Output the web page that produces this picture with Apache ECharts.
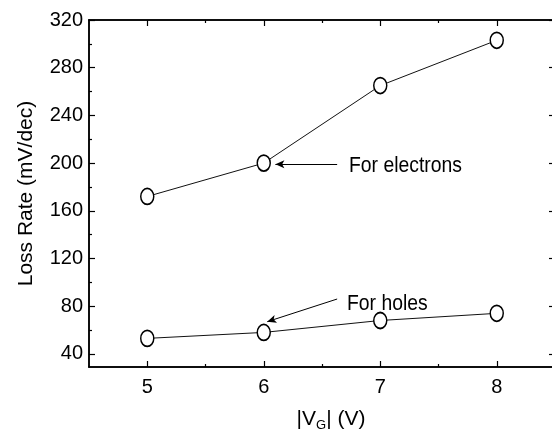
<!DOCTYPE html>
<html>
<head>
<meta charset="utf-8">
<script src="https://cdn.jsdelivr.net/npm/echarts@6/dist/echarts.min.js"></script>
<style>
  html, body { margin: 0; padding: 0; background: #fff; }
  #chart { width: 552px; height: 434px; }
</style>
</head>
<body>
<div id="chart"></div>
<script>
// data
const gateVoltage = [5, 6, 7, 8];
const electronRate = [172, 200, 265, 303];
const holeRate = [53, 58, 68, 74];
const xLabels = [5, 6, 7, 8];
const xMinor = [5.5, 6.5, 7.5];
const yLabels = [40, 80, 120, 160, 200, 240, 280, 320];
const yMinor = [60, 100, 140, 180, 220, 260, 300];

const FONT = "'Liberation Sans', Arial, sans-serif";
const axisLine = { show: true, lineStyle: { color: '#000', width: 1.5 } };

function xAxisDef(pos, ticks, len, labels) {
    return {
        type: 'value', position: pos, min: 4.5, max: 8.5,
        axisLine: axisLine,
        splitLine: { show: false },
        axisTick: { show: true, inside: true, length: len, customValues: ticks, lineStyle: { color: '#000', width: 1.2 } },
        axisLabel: labels
            ? { show: true, customValues: ticks, color: '#000', fontSize: 20, fontFamily: FONT, margin: 10 }
            : { show: false }
    };
}

function yAxisDef(pos, ticks, len, labels) {
    return {
        type: 'value', position: pos, min: 29, max: 320,
        axisLine: axisLine,
        splitLine: { show: false },
        axisTick: { show: true, inside: true, length: len, customValues: ticks, lineStyle: { color: '#000', width: 1.2 } },
        axisLabel: labels
            ? { show: true, customValues: ticks, color: '#000', fontSize: 20, fontFamily: FONT, margin: 6 }
            : { show: false }
    };
}

const chart = echarts.init(document.getElementById('chart'));

const xMain = xAxisDef('bottom', xLabels, 6, true);
xMain.name = '|V{sub|G}| (V)';
xMain.nameLocation = 'middle';
xMain.nameGap = 40;
xMain.nameTextStyle = {
    color: '#000', fontSize: 21, fontFamily: FONT, padding: [0, 0, 0, 18],
    rich: { sub: { fontSize: 13, fontFamily: FONT, color: '#000', verticalAlign: 'bottom', padding: [12, 0, 0, 0] } }
};

const yMain = yAxisDef('left', yLabels, 6, true);
yMain.name = 'Loss Rate (mV/dec)';
yMain.nameLocation = 'middle';
yMain.nameGap = 52;
yMain.nameTextStyle = { color: '#000', fontSize: 21, fontFamily: FONT };

function pointSeries(name, values, arrow) {
    return {
        name: name,
        type: 'line',
        data: gateVoltage.map((v, i) => [v, values[i]]),
        symbol: 'circle',
        symbolSize: [13, 16],
        itemStyle: { color: '#fff', borderColor: '#000', borderWidth: 1.6 },
        lineStyle: { color: '#111', width: 1 },
        z: 3,
        markLine: {
            silent: true,
            symbol: ['none', 'arrow'],
            symbolSize: [6, 9],
            label: { show: false },
            lineStyle: { color: '#000', width: 1, type: 'solid' },
            data: [arrow]
        }
    };
}

chart.setOption({
    animation: false,
    backgroundColor: '#fff',
    // the right frame of the original plot falls just past the picture edge
    grid: { left: 89, top: 20, width: 466, height: 347, outerBoundsMode: 'none' },
    xAxis: [
        xMain,
        xAxisDef('bottom', xMinor, 3, false),
        xAxisDef('top', xLabels, 6, false),
        xAxisDef('top', xMinor, 3, false)
    ],
    yAxis: [
        yMain,
        yAxisDef('left', yMinor, 3, false),
        yAxisDef('right', yLabels, 6, false),
        yAxisDef('right', yMinor, 3, false)
    ],
    series: [
        pointSeries('For electrons', electronRate,
            [{ coord: [6.63, 199] }, { coord: [6.1, 199] }]),
        pointSeries('For holes', holeRate,
            [{ coord: [6.63, 86] }, { coord: [6.03, 67] }])
    ],
    graphic: [
        {
            type: 'text', left: 349, top: 155, scaleX: 0.88,
            style: { text: 'For electrons', fill: '#000', fontSize: 22, fontFamily: FONT }
        },
        {
            type: 'text', left: 347, top: 293, scaleX: 0.88,
            style: { text: 'For holes', fill: '#000', fontSize: 22, fontFamily: FONT }
        }
    ]
});
</script>
</body>
</html>
